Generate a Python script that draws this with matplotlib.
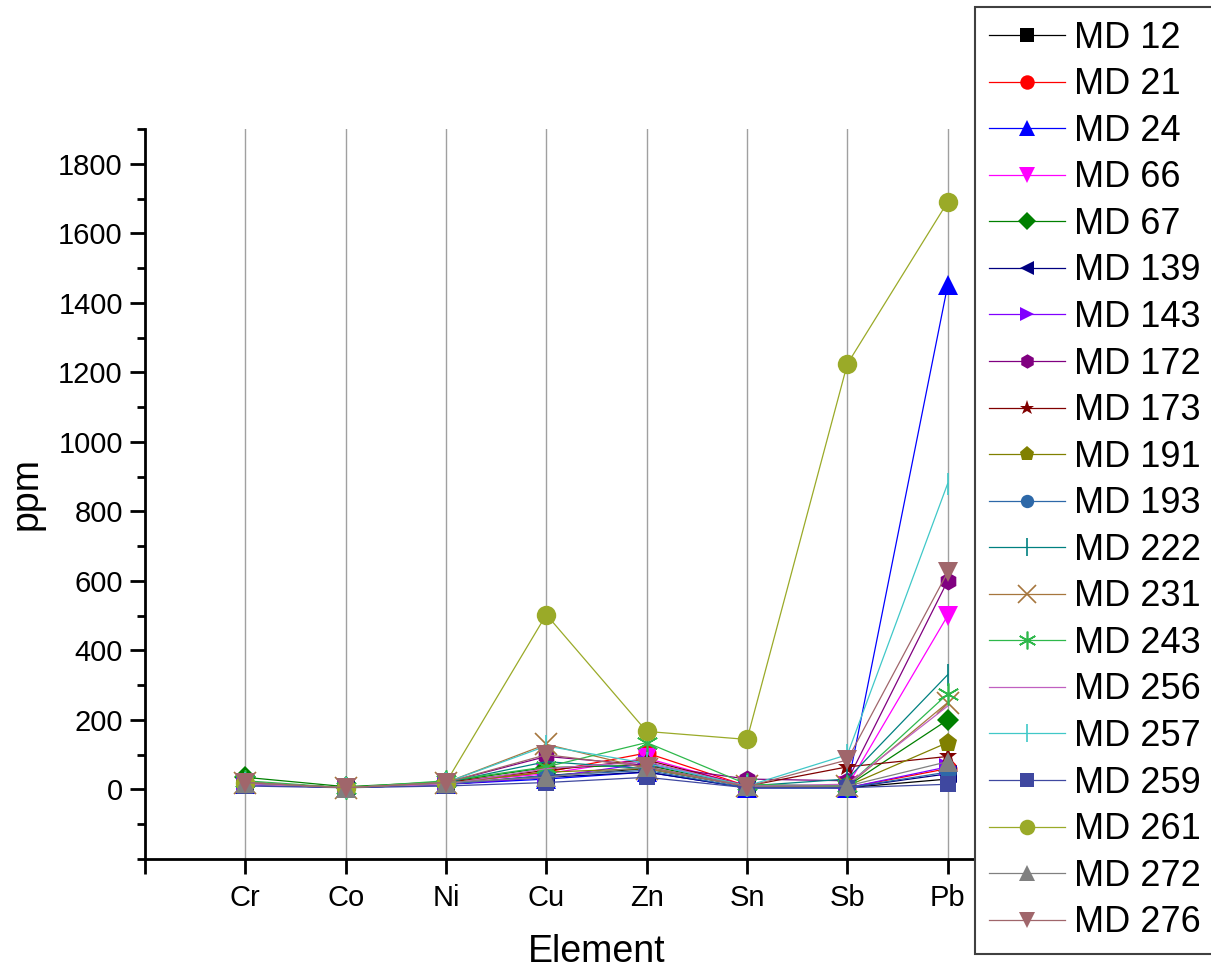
import numpy as np
import matplotlib
matplotlib.use('Agg')
import matplotlib.pyplot as plt
from matplotlib.ticker import MultipleLocator

plt.rcParams['font.family'] = ['Liberation Sans', 'DejaVu Sans']

elements = ['Cr', 'Co', 'Ni', 'Cu', 'Zn', 'Sn', 'Sb', 'Pb']

# ppm values per sample (order: Cr Co Ni Cu Zn Sn Sb Pb)
md12 = [20, 5, 15, 40, 60, 10, 5, 30]
md21 = [20, 5, 18, 50, 105, 10, 5, 60]
md24 = [15, 5, 15, 30, 50, 5, 5, 1450]
md66 = [20, 5, 20, 45, 90, 10, 10, 500]
md67 = [35, 8, 22, 63, 70, 10, 10, 200]
md139 = [15, 5, 15, 35, 50, 5, 5, 45]
md143 = [15, 5, 15, 35, 75, 10, 5, 65]
md172 = [20, 5, 20, 95, 70, 30, 25, 600]
md173 = [20, 5, 20, 55, 85, 10, 65, 95]
md191 = [20, 5, 18, 50, 60, 10, 10, 135]
md193 = [15, 5, 15, 40, 55, 5, 5, 50]
md222 = [20, 5, 20, 80, 60, 10, 30, 330]
md231 = [20, 5, 20, 130, 60, 10, 10, 250]
md243 = [25, 5, 25, 65, 135, 15, 10, 275]
md256 = [15, 5, 15, 60, 80, 10, 15, 240]
md257 = [20, 5, 20, 125, 75, 10, 100, 880]
md259 = [10, 5, 10, 20, 35, 5, 5, 15]
md261 = [20, 5, 20, 503, 167, 144, 1224, 1690]
md272 = [20, 5, 20, 35, 65, 10, 10, 80]
md276 = [20, 5, 20, 100, 65, 8, 85, 625]

samples = ['MD 12', 'MD 21', 'MD 24', 'MD 66', 'MD 67', 'MD 139', 'MD 143',
           'MD 172', 'MD 173', 'MD 191', 'MD 193', 'MD 222', 'MD 231',
           'MD 243', 'MD 256', 'MD 257', 'MD 259', 'MD 261', 'MD 272', 'MD 276']
series = [md12, md21, md24, md66, md67, md139, md143, md172, md173, md191,
          md193, md222, md231, md243, md256, md257, md259, md261, md272, md276]

colors = ['#000000', '#ff0000', '#0000ff', '#ff00ff', '#008000', '#000080',
          '#8000ff', '#800080', '#800000', '#808000', '#2d68a8', '#008080',
          '#a6763d', '#2eb84b', '#c060c0', '#40c8c8', '#3f48a0', '#9aaa28',
          '#808080', '#a0666b']
asterisk = (6, 2, 0)
markers = ['s', 'o', '^', 'v', 'D', '<', '>', 'h', '*', 'p', 'o', '|', 'x',
           asterisk, '_', '|', 's', 'o', '^', 'v']
msizes = [12, 13, 14, 14, 11, 13, 13, 13, 14, 14, 12, 16, 16, 16, 0, 16, 12, 14, 14, 14]
line_markers = {'MD 222', 'MD 231', 'MD 243', 'MD 257'}

fig = plt.figure(figsize=(12.11, 9.69), dpi=100)
ax = fig.add_axes([145/1211, 110/969, 903/1211, 730/969])

x = np.arange(1, len(elements) + 1)
for vals, name, c, m, ms in zip(series, samples, colors, markers, msizes):
    mew = 1.2 if name in line_markers else 0
    ax.plot(x, vals, color=c, marker=m, markersize=ms, lw=0.9,
            markeredgewidth=mew, label=name)

ax.set_xlim(0, 9)
ax.set_ylim(-200, 1900)
ax.set_xticks(np.arange(0, 9))
ax.set_xticklabels([''] + elements)
ax.yaxis.set_minor_locator(MultipleLocator(100))
ax.set_yticks(np.arange(0, 1801, 200))

for xi in x:
    ax.axvline(xi, color='#a0a0a0', lw=1.0, zorder=0)

for s in ['top', 'right']:
    ax.spines[s].set_visible(False)
for s in ['left', 'bottom']:
    ax.spines[s].set_linewidth(2)

ax.tick_params(axis='both', which='major', direction='out', length=11, width=2, labelsize=21)
ax.tick_params(axis='y', which='minor', direction='out', length=6, width=2)
ax.tick_params(axis='x', which='major', pad=7)
ax.tick_params(axis='y', which='major', pad=5)

ax.set_xlabel('Element', fontsize=27, labelpad=16)
ax.set_ylabel('ppm', fontsize=27, labelpad=10)

leg = fig.legend(loc='upper left', bbox_to_anchor=(975/1211, 1 - 7/969),
                 borderaxespad=0, fontsize=26, handlelength=2.1,
                 handletextpad=0.25, labelspacing=0.32, frameon=True,
                 fancybox=False, framealpha=1, edgecolor='#404040',
                 borderpad=0.38, markerscale=0.8)
leg.get_frame().set_linewidth(1.5)

fig.savefig('out.png', dpi=100)
